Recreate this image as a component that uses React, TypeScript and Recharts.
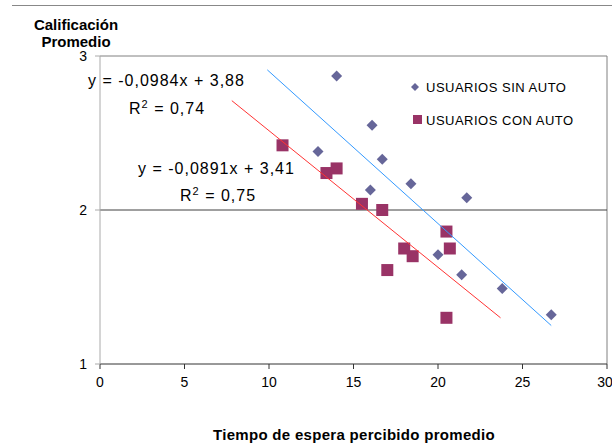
import { ReferenceLine, Scatter, ScatterChart, XAxis, YAxis } from 'recharts';

// Usuarios sin auto (diamonds)
const sinAutoX = [14.0, 16.1, 12.9, 16.7, 16.0, 18.4, 21.7, 20.0, 21.4, 23.8, 26.7];
const sinAutoY = [2.87, 2.55, 2.38, 2.33, 2.13, 2.17, 2.08, 1.71, 1.58, 1.49, 1.32];

// Usuarios con auto (squares)
const conAutoX = [10.8, 13.4, 14.0, 15.5, 16.7, 20.5, 18.0, 18.5, 17.0, 20.7, 20.5];
const conAutoY = [2.42, 2.24, 2.27, 2.04, 2.0, 1.86, 1.75, 1.7, 1.61, 1.75, 1.3];

// trendline end points
const sinTrendX = [9.9, 26.7];
const sinTrendY = [2.91, 1.25];
const conTrendX = [7.8, 23.7];
const conTrendY = [2.71, 1.3];

const xTicks = [0, 5, 10, 15, 20, 25, 30];
const yTicks = [1, 2, 3];

const zip = (xs: number[], ys: number[]) => xs.map((x, i) => ({ x, y: ys[i] }));

const FONT = 'Arial, "Liberation Sans", sans-serif';

function Diamond(props: any) {
  const { cx, cy } = props;
  if (cx == null || cy == null) return <g />;
  const r = 5.5;
  return (
    <path
      d={`M${cx},${cy - r}L${cx + r},${cy}L${cx},${cy + r}L${cx - r},${cy}Z`}
      fill="#666699"
    />
  );
}

function Square(props: any) {
  const { cx, cy } = props;
  if (cx == null || cy == null) return <g />;
  const s = 6;
  return <rect x={cx - s} y={cy - s} width={s * 2} height={s * 2} fill="#993366" />;
}

const noDot = () => <g />;

const eqStyle: React.CSSProperties = {
  position: 'absolute',
  fontFamily: FONT,
  fontSize: 16,
  lineHeight: '16px',
  letterSpacing: 1,
  color: '#000',
  whiteSpace: 'nowrap',
};

const sup = <span style={{ fontSize: 11, position: 'relative', top: -6 }}>2</span>;

export default function App() {
  return (
    <div style={{ position: 'absolute', left: 0, top: 0, width: 612, height: 445, background: '#fff' }}>
      <ScatterChart width={612} height={445} margin={{ top: 56, right: 5, bottom: 0, left: 0 }}>
        <XAxis
          type="number"
          dataKey="x"
          domain={[0, 30]}
          ticks={xTicks}
          stroke="#333"
          tickSize={5}
          tickMargin={8}
          height={81}
          tick={{ fontSize: 14, fill: '#000', fontFamily: FONT }}
          allowDataOverflow
        />
        <YAxis
          type="number"
          dataKey="y"
          domain={[1, 3]}
          ticks={yTicks}
          stroke="#aaa"
          width={100}
          tickSize={5}
          tickMargin={8}
          tick={{ fontSize: 14, fill: '#000', fontFamily: FONT }}
          allowDataOverflow
        />
        <ReferenceLine y={3} stroke="#808080" />
        <ReferenceLine x={30} stroke="#808080" />
        <ReferenceLine y={2} stroke="#404040" />

        <Scatter name="USUARIOS SIN AUTO" data={zip(sinAutoX, sinAutoY)} shape={Diamond} isAnimationActive={false} />
        <Scatter name="USUARIOS CON AUTO" data={zip(conAutoX, conAutoY)} shape={Square} isAnimationActive={false} />

        {/* trendlines drawn on top of the markers */}
        <Scatter
          data={zip(sinTrendX, sinTrendY)}
          line={{ stroke: '#3399ff', strokeWidth: 1 }}
          shape={noDot}
          isAnimationActive={false}
        />
        <Scatter
          data={zip(conTrendX, conTrendY)}
          line={{ stroke: '#ff3333', strokeWidth: 1 }}
          shape={noDot}
          isAnimationActive={false}
        />
      </ScatterChart>

      {/* outer frame line */}
      <div style={{ position: 'absolute', left: 12, top: 5, width: 600, borderTop: '1px solid #888' }} />

      {/* axis titles */}
      <div
        style={{
          position: 'absolute',
          left: 16,
          top: 16,
          width: 120,
          textAlign: 'center',
          fontFamily: FONT,
          fontWeight: 'bold',
          fontSize: 15,
          lineHeight: '17px',
        }}
      >
        Calificación
        <br />
        Promedio
      </div>
      <div
        style={{
          position: 'absolute',
          left: 154,
          top: 426,
          width: 400,
          textAlign: 'center',
          fontFamily: FONT,
          fontWeight: 'bold',
          fontSize: 15,
          lineHeight: '18px',
          letterSpacing: 0.3,
        }}
      >
        Tiempo de espera percibido promedio
      </div>

      {/* trendline equations */}
      <div style={{ ...eqStyle, left: 88, top: 73 }}>y = -0,0984x + 3,88</div>
      <div style={{ ...eqStyle, left: 129, top: 101 }}>R{sup} = 0,74</div>
      <div style={{ ...eqStyle, left: 138, top: 161 }}>y = -0,0891x + 3,41</div>
      <div style={{ ...eqStyle, left: 180, top: 188 }}>R{sup} = 0,75</div>

      {/* legend */}
      <div style={{ position: 'absolute', left: 410, top: 78, fontFamily: FONT, fontSize: 13, letterSpacing: 0.5 }}>
        <div style={{ display: 'flex', alignItems: 'center', height: 18 }}>
          <svg width={16} height={14}>
            <path d="M5,3L9,7L5,11L1,7Z" fill="#666699" />
          </svg>
          <span>USUARIOS SIN AUTO</span>
        </div>
        <div style={{ display: 'flex', alignItems: 'center', height: 18, marginTop: 15 }}>
          <svg width={16} height={14}>
            <rect x={3} y={2} width={9} height={9} fill="#993366" />
          </svg>
          <span>USUARIOS CON AUTO</span>
        </div>
      </div>
    </div>
  );
}
